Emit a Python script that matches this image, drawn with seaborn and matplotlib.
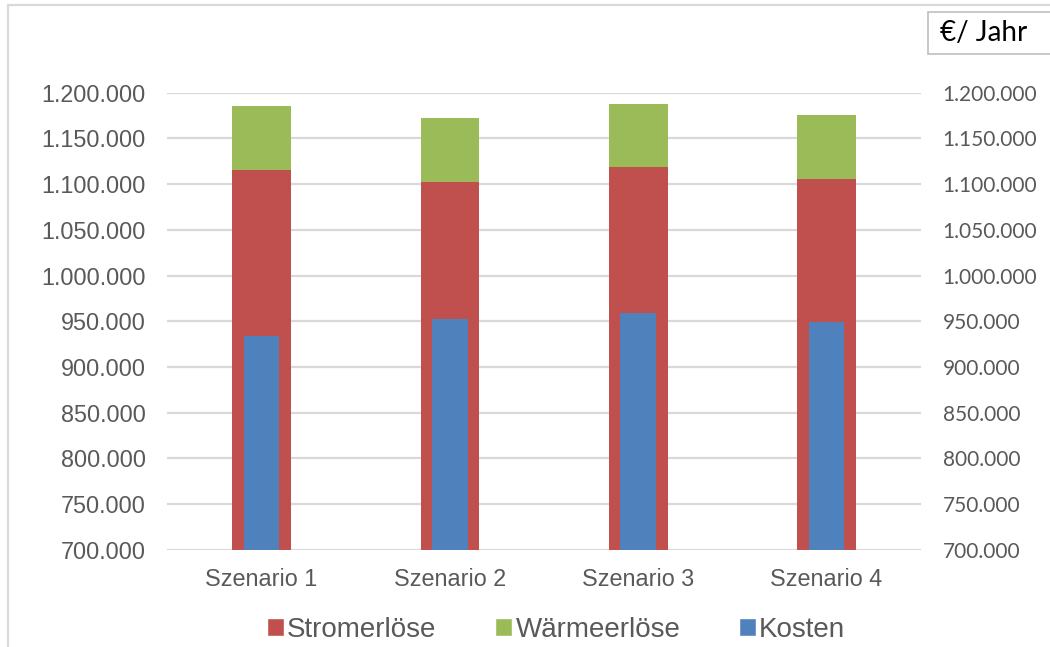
import matplotlib
matplotlib.use("Agg")
import matplotlib.pyplot as plt
from matplotlib.patches import Rectangle, Patch
import numpy as np
import pandas as pd
import seaborn as sns

# Annual revenue and cost per scenario (EUR / year)
szenarien = ["Szenario 1", "Szenario 2", "Szenario 3", "Szenario 4"]
stromerloese = [1115800, 1102600, 1118400, 1105900]
waermeerloese = [70000, 69400, 69600, 69700]
kosten = [934100, 952400, 959000, 949100]
y_ticks = [700000, 750000, 800000, 850000, 900000, 950000,
           1000000, 1050000, 1100000, 1150000, 1200000]

RED = "#C0504D"
GREEN = "#9BBB59"
BLUE = "#4F81BD"
GRID = "#D9D9D9"
LABEL = "#595959"

sns.set_theme(style="white")
plt.rcParams["font.family"] = ["Liberation Sans", "DejaVu Sans"]

df = pd.DataFrame({
    "Szenario": szenarien,
    "Strom": stromerloese,
    "Gesamt": np.array(stromerloese) + np.array(waermeerloese),
    "Kosten": kosten,
})

fig = plt.figure(figsize=(10.5, 6.47), dpi=100)
ax = fig.add_axes([0.1595, 0.1504, 0.7172, 0.7063])

# stacked revenue: heat revenue sits on top of electricity revenue
sns.barplot(data=df, x="Szenario", y="Gesamt", color=GREEN, width=0.312,
            saturation=1, linewidth=0, ax=ax, zorder=2)
sns.barplot(data=df, x="Szenario", y="Strom", color=RED, width=0.312,
            saturation=1, linewidth=0, ax=ax, zorder=3)
# costs as a narrower bar in front
sns.barplot(data=df, x="Szenario", y="Kosten", color=BLUE, width=0.19,
            saturation=1, linewidth=0, ax=ax, zorder=4)

ax.set_xlim(-0.5, len(szenarien) - 0.5)
ax.set_ylim(y_ticks[0], y_ticks[-1])
ax.set_yticks(y_ticks)
fmt = [f"{v:,.0f}".replace(",", ".") for v in y_ticks]
ax.set_yticklabels(fmt)
ax.set_xlabel("")
ax.set_ylabel("")
ax.set_axisbelow(True)
ax.yaxis.grid(True, color=GRID, linewidth=1.6)
ax.xaxis.grid(False)
for s in ax.spines.values():
    s.set_visible(False)
ax.tick_params(axis="y", length=0, pad=15.5, labelsize=16.8, labelcolor=LABEL)
ax.tick_params(axis="x", length=0, pad=13, labelsize=16.8, labelcolor=LABEL)

# secondary scale on the right with identical ticks
ax2 = ax.twinx()
ax2.set_ylim(y_ticks[0], y_ticks[-1])
ax2.set_yticks(y_ticks)
ax2.set_yticklabels(fmt, family=["Lato", "DejaVu Sans"])
ax2.tick_params(axis="y", length=0, pad=16, labelsize=15, labelcolor=LABEL)
for s in ax2.spines.values():
    s.set_visible(False)
ax2.grid(False)

# chart frame and unit box
W, H = 1050, 647
fig.patches.append(Rectangle((8 / W, -0.1), 1.2, 1 - 5 / H + 0.1,
                             transform=fig.transFigure, fill=False,
                             edgecolor=GRID, linewidth=1.6))
fig.patches.append(Rectangle((927.7 / W, 1 - 54.3 / H), 0.2, 42.6 / H,
                             transform=fig.transFigure, facecolor="white",
                             edgecolor="#BFBFBF", linewidth=1.2))
fig.text(940 / W, 1 - 33 / H, "€/ Jahr", fontsize=20, color="black",
         va="center", ha="left", family=["Lato", "DejaVu Sans"])

handles = [Patch(facecolor=RED, label="Stromerlöse"),
           Patch(facecolor=GREEN, label="Wärmeerlöse"),
           Patch(facecolor=BLUE, label="Kosten")]
leg = fig.legend(handles=handles, loc="center", ncol=3,
                 bbox_to_anchor=(556 / W, 1 - 630 / H), frameon=False,
                 fontsize=20, handlelength=0.62, handleheight=0.62,
                 handletextpad=0.12, columnspacing=2.1)
for t in leg.get_texts():
    t.set_color(LABEL)

fig.savefig("out.png", dpi=100)
